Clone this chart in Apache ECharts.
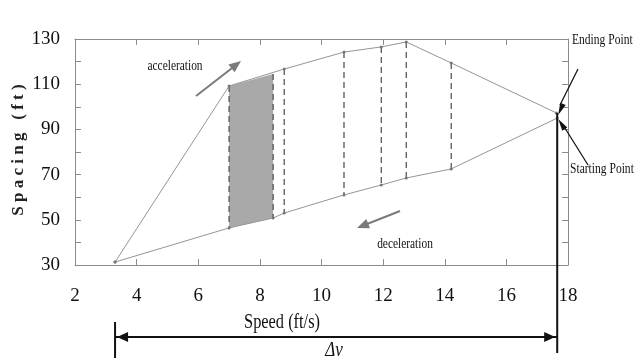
<!DOCTYPE html>
<html><head><meta charset="utf-8">
<script src="https://cdn.jsdelivr.net/npm/echarts@6/dist/echarts.min.js"></script>
<style>html,body{margin:0;padding:0;background:#fff}#c{width:635px;height:358px}</style>
</head><body><div id="c"></div>
<script>
// ---- data ----
const xTicks = [2, 18, 2];          // min, max, step of speed axis
const yTicks = [30, 130, 10];       // min, max, step of spacing axis
const upperSpeed   = [3.3, 7.0, 8.79, 10.73, 11.94, 12.75, 14.21, 17.62];
const upperSpacing = [31.3, 109.2, 116.7, 124.2, 126.5, 128.7, 119.4, 97.3];
const lowerSpeed   = [3.3, 7.0, 8.43, 8.79, 10.73, 11.94, 12.75, 14.21, 17.65];
const lowerSpacing = [31.3, 46.4, 50.8, 53.0, 61.0, 65.4, 68.5, 72.5, 95.0];
const dashSpeed  = [7.0, 8.43, 8.79, 10.73, 11.94, 12.75, 14.21];
const dashTop    = [109.2, 114.5, 116.7, 124.2, 126.5, 128.7, 119.4];
const dashBottom = [46.4, 50.8, 53.0, 61.0, 65.4, 68.5, 72.5];
const shadeSpeed  = [7.0, 8.43];
const shadeTop    = [109.2, 114.5];
const shadeBottom = [46.4, 50.8];
const deltaV = [3.3, 17.65];        // speed range of the Δv arrow

const chart = echarts.init(document.getElementById('c'), null, {renderer: 'canvas'});
const serif = '"Liberation Serif", "Times New Roman", serif';
const axisGray = '#8c8c8c';

function zip(a, b) { return a.map((v, i) => [v, b[i]]); }

const xBase = {
  type: 'value', min: xTicks[0], max: xTicks[1], interval: xTicks[2],
  axisLine: {show: true, onZero: false, lineStyle: {color: axisGray, width: 1}},
  axisTick: {show: true, inside: true, length: 6, lineStyle: {color: axisGray}},
  splitLine: {show: false}
};
const yBase = {
  type: 'value', min: yTicks[0], max: yTicks[1], interval: yTicks[2],
  axisLine: {show: true, onZero: false, lineStyle: {color: axisGray, width: 1}},
  axisTick: {show: true, inside: true, length: 6, lineStyle: {color: axisGray}},
  splitLine: {show: false}
};

chart.setOption({
  animation: false,
  backgroundColor: '#fff',
  grid: {left: 75, right: 67, top: 39, bottom: 93},
  xAxis: [
    Object.assign({}, xBase, {position: 'bottom',
      axisLabel: {margin: 22, color: '#111', fontFamily: serif, fontSize: 19}}),
    Object.assign({}, xBase, {position: 'top', axisLabel: {show: false}})
  ],
  yAxis: [
    Object.assign({}, yBase, {position: 'left',
      axisLabel: {margin: 15, color: '#111', fontFamily: serif, fontSize: 19,
        formatter: v => ((v - yTicks[0]) % 20 === 0 ? String(v) : '')}}),
    Object.assign({}, yBase, {position: 'right', axisLabel: {show: false}})
  ],
  series: [
    {
      type: 'custom', name: 'shade', z: 1,
      data: [[shadeSpeed[0], shadeBottom[0]]],
      renderItem: (params, api) => {
        const pts = [
          api.coord([shadeSpeed[0], shadeTop[0]]),
          api.coord([shadeSpeed[1], shadeTop[1]]),
          api.coord([shadeSpeed[1], shadeBottom[1]]),
          api.coord([shadeSpeed[0], shadeBottom[0]])
        ];
        return {type: 'polygon', shape: {points: pts}, style: {fill: '#a9a9a9', stroke: null}};
      }
    },
    {
      type: 'custom', name: 'dashes', z: 3,
      encode: {x: 0, y: [1, 2]},
      data: dashSpeed.map((x, i) => [x, dashTop[i], dashBottom[i]]),
      renderItem: (params, api) => {
        const p1 = api.coord([api.value(0), api.value(1)]);
        const p2 = api.coord([api.value(0), api.value(2)]);
        return {type: 'line', shape: {x1: p1[0], y1: p1[1], x2: p2[0], y2: p2[1]},
          style: {stroke: '#4a4a4a', lineWidth: 1.2, lineDash: [6, 4]}};
      }
    },
    {
      type: 'line', name: 'acceleration', z: 4, data: zip(upperSpeed, upperSpacing),
      symbol: 'circle', symbolSize: 3, itemStyle: {color: '#777'},
      lineStyle: {color: '#959595', width: 1}
    },
    {
      type: 'line', name: 'deceleration', z: 4, data: zip(lowerSpeed, lowerSpacing),
      symbol: 'circle', symbolSize: 3, itemStyle: {color: '#777'},
      lineStyle: {color: '#959595', width: 1}
    }
  ]
});

// ---- annotations ----
function arrowHead(tip, from, len, half, fill) {
  const dx = tip[0] - from[0], dy = tip[1] - from[1];
  const d = Math.hypot(dx, dy), ux = dx / d, uy = dy / d;
  const bx = tip[0] - ux * len, by = tip[1] - uy * len;
  return {type: 'polygon', z: 20, shape: {points: [tip, [bx - uy * half, by + ux * half], [bx + uy * half, by - ux * half]]},
    style: {fill: fill}};
}
function seg(a, b, color, w) {
  return {type: 'line', z: 20, shape: {x1: a[0], y1: a[1], x2: b[0], y2: b[1]}, style: {stroke: color, lineWidth: w}};
}
function txt(t, x, y, size, sx, align, fontPrefix) {
  return {type: 'text', z: 20, x: x, y: y, scaleX: sx || 1,
    style: {text: t, fill: '#111', font: (fontPrefix || '') + size + 'px ' + serif,
      align: align || 'center', verticalAlign: 'middle'}};
}

const xl = chart.convertToPixel({xAxisIndex: 0}, deltaV[0]);
const xr = chart.convertToPixel({xAxisIndex: 0}, deltaV[1]);
const yb = chart.convertToPixel({yAxisIndex: 0}, yTicks[0]);
const yEnd = chart.convertToPixel({yAxisIndex: 0}, upperSpacing[upperSpacing.length - 1]);
const yStart = chart.convertToPixel({yAxisIndex: 0}, lowerSpacing[lowerSpacing.length - 1]);
const ay = yb + 72;

const g = [
  // Δv dimension arrow
  seg([xl, ay], [xr, ay], '#111', 2),
  seg([xl, yb + 57], [xl, yb + 93], '#111', 2),
  seg([xr, yEnd], [xr, yb + 88], '#111', 2),
  arrowHead([xl + 2, ay], [xr, ay], 11, 5, '#111'),
  arrowHead([xr - 2, ay], [xl, ay], 11, 5, '#111'),
  txt('Δv', 334, 351, 20, 0.85, 'center', 'italic '),
  txt('Speed (ft/s)', 282, 322, 21, 0.78),
  // y axis title
  {type: 'text', z: 20, x: 19, y: 150, rotation: Math.PI / 2,
    style: {text: 'S p a c i n g   ( f t )', fill: '#222', font: 'bold 17px ' + serif, align: 'center', verticalAlign: 'middle'}},
  // acceleration / deceleration
  txt('acceleration', 175, 66, 15, 0.76),
  seg([196, 96], [236, 65], '#7a7a7a', 2),
  arrowHead([241, 61], [196, 96], 12, 5, '#7a7a7a'),
  txt('deceleration', 405, 244, 15, 0.76),
  seg([400, 211], [362, 226], '#7a7a7a', 2),
  arrowHead([357, 228], [400, 211], 12, 5, '#7a7a7a'),
  // ending / starting point
  txt('Ending Point', 572, 40, 15, 0.77, 'left'),
  seg([578, 69], [560, 105], '#111', 1.3),
  arrowHead([xr + 1, yEnd + 2], [578, 69], 12, 3, '#111'),
  txt('Starting Point', 570, 169, 15, 0.77, 'left'),
  seg([588, 165], [563, 125], '#111', 1.3),
  arrowHead([xr + 1, yStart + 1], [588, 165], 12, 3, '#111')
];
chart.setOption({graphic: {elements: g}});
</script>
</body></html>
